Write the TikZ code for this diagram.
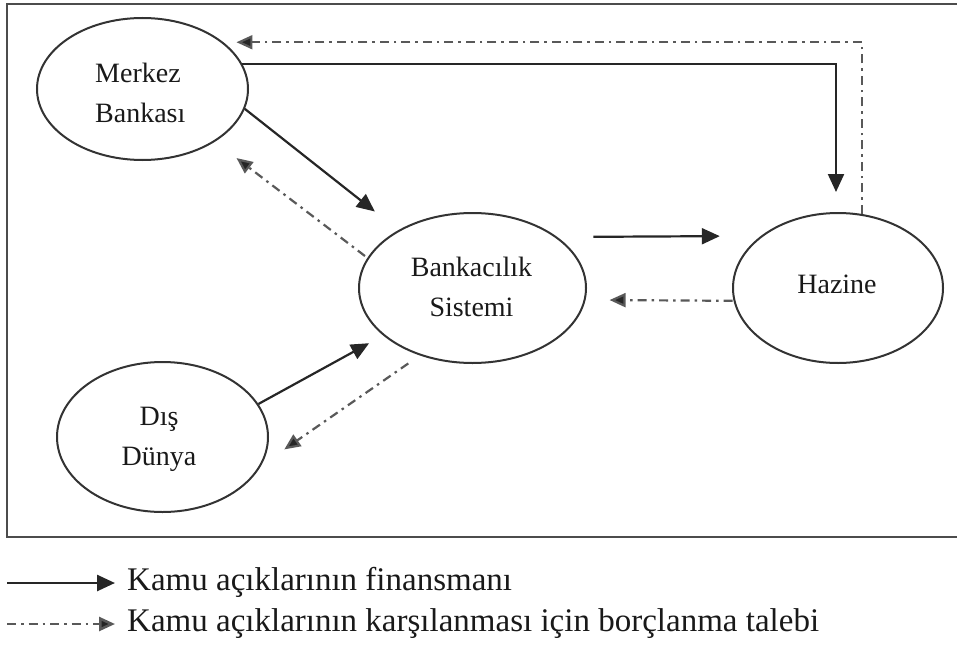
\documentclass[tikz,border=0pt]{standalone}
\usepackage{fontspec}
\setmainfont{Liberation Serif}
\usetikzlibrary{arrows.meta,shapes.geometric}
\begin{document}
\begin{tikzpicture}[x=1pt,y=-1pt,
  box/.style={ellipse,draw=black!80,line width=2pt,inner sep=0pt},
  lbl/.style={font=\fontsize{28}{40}\selectfont,inner sep=0pt,text=black!90},
  legtext/.style={font=\fontsize{33}{40}\selectfont,inner sep=0pt,anchor=base west,text=black!90},
  fin/.style={draw=black!85,line width=2.2pt,-{Triangle[length=18pt,width=16pt]}},
  req/.style={draw=black!65,line width=2.2pt,dash pattern=on 9pt off 5pt on 2.5pt off 5pt,-{Triangle[length=16pt,width=14pt,fill=black!85]}}]
\useasboundingbox (0,0) rectangle (957,650);
% frame
\draw[draw=black!70,line width=2.2pt] (957,4) -- (7,4) -- (7,537) -- (957,537);
% ellipses
\node[box,minimum width=211pt,minimum height=142pt] (mb) at (142.5,89) {};
\node[box,minimum width=227pt,minimum height=150pt] (bs) at (472.5,288) {};
\node[box,minimum width=210pt,minimum height=150pt] (hz) at (838,288) {};
\node[box,minimum width=211pt,minimum height=150pt] (dd) at (162.5,437) {};
% labels
\node[lbl,align=left,anchor=west] (mbt) at (95,93) {Merkez\\Bankası};
\node[lbl,align=center] (bst) at (471.5,287) {Bankacılık\\Sistemi};
\node[lbl] (hzt) at (837,284) {Hazine};
\node[lbl,align=center] (ddt) at (159,439) {Dış\\Dünya};
% connectors
\draw[fin,shorten >=20pt] (mb.14) -| ([xshift=-2pt]hz.north);
\draw[req,shorten >=13pt] (hz.72) |- (mb.30);
\draw[fin,shorten >=30pt] (mb.-11) -- (bs.142);
\draw[req,shorten <=3pt,shorten >=27pt] (bs.164) -- (mb.-36);
\draw[fin,shorten <=36pt,shorten >=41pt] (bs.31.5) -- (hz.146.5);
\draw[req,shorten <=1pt,shorten >=24pt] (hz.187) -- (bs.-6);
\draw[fin,shorten >=16pt] (dd.19.6) -- (bs.208);
\draw[req,shorten <=14pt,shorten >=28pt] (bs.232.8) -- (dd.-16.4);
% legend
\node[legtext] (leg1) at (127,590) {Kamu açıklarının finansmanı};
\node[legtext] (leg2) at (127,631) {Kamu açıklarının karşılanması için borçlanma talebi};
\coordinate (l1) at (7,583);
\coordinate (l2) at (7,624);
\draw[fin,line width=2.6pt,shorten >=12pt] (l1) -- (l1 -| leg1.west);
\draw[req,line width=2.6pt,shorten >=12pt] (l2) -- (l2 -| leg2.west);
\end{tikzpicture}
\end{document}
